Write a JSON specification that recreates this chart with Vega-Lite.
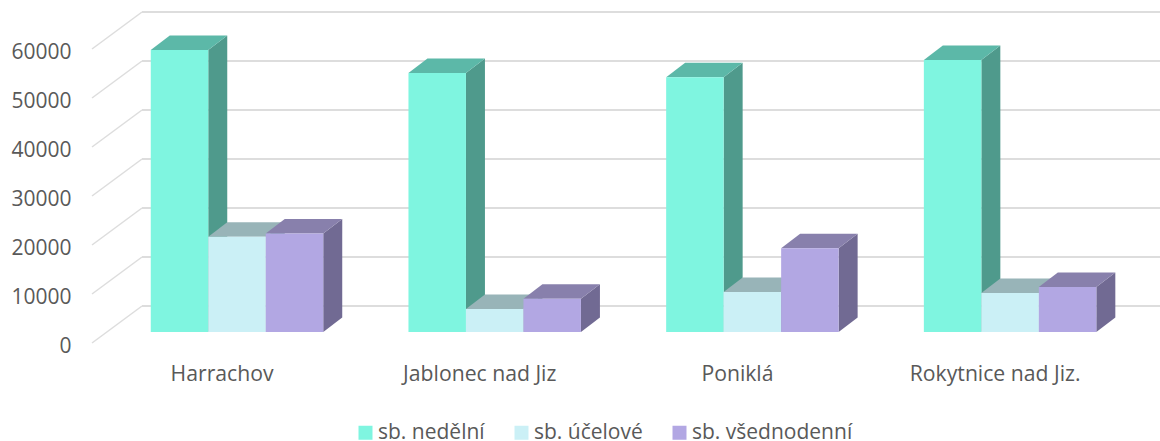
{"$schema":"https://vega.github.io/schema/vega-lite/v6.json","width":1160,"height":441,"padding":0,"autosize":"none","background":"white","config":{"view":{"stroke":null},"font":"Open Sans"},"datasets":{"bars":[{"town":"Harrachov","series":"sb. nedělní","value":57550},{"town":"Harrachov","series":"sb. účelové","value":19450},{"town":"Harrachov","series":"sb. všednodenní","value":20100},{"town":"Jablonec nad Jiz","series":"sb. nedělní","value":52850},{"town":"Jablonec nad Jiz","series":"sb. účelové","value":4700},{"town":"Jablonec nad Jiz","series":"sb. všednodenní","value":6800},{"town":"Poniklá","series":"sb. nedělní","value":52000},{"town":"Poniklá","series":"sb. účelové","value":8160},{"town":"Poniklá","series":"sb. všednodenní","value":17100},{"town":"Rokytnice nad Jiz.","series":"sb. nedělní","value":55500},{"town":"Rokytnice nad Jiz.","series":"sb. účelové","value":7960},{"town":"Rokytnice nad Jiz.","series":"sb. všednodenní","value":9200}],"ticks":[{"tick":0},{"tick":10000},{"tick":20000},{"tick":30000},{"tick":40000},{"tick":50000},{"tick":60000}],"towns":[{"town":"Harrachov"},{"town":"Jablonec nad Jiz"},{"town":"Poniklá"},{"town":"Rokytnice nad Jiz."}]},"resolve":{"scale":{"color":"independent"}},"layer":[{"data":{"name":"ticks"},"transform":[{"calculate":"datum.tick+7551","as":"back"},{"calculate":"-0.3686","as":"wallLeft"},{"calculate":"3.5817","as":"wallRight"}],"mark":{"type":"rule","color":"#DDDDDD","strokeWidth":2},"encoding":{"x":{"field":"wallLeft","type":"quantitative","scale":{"domain":[-0.9197,3.5817],"nice":false,"zero":false},"axis":null},"x2":{"field":"wallRight"},"y":{"field":"back","type":"quantitative","scale":{"domain":[-20000,70000],"nice":false,"zero":false},"title":null,"axis":{"title":null,"values":[0,10000,20000,30000,40000,50000,60000],"format":"d","domain":false,"ticks":false,"grid":false,"offset":-71,"labelPadding":0,"labelFontSize":21,"labelOffset":3,"labelColor":"#595959","labelFont":"Open Sans"}}}},{"data":{"name":"ticks"},"transform":[{"calculate":"datum.tick+7551","as":"back"},{"calculate":"-0.3686","as":"wallLeft"},{"calculate":"-0.5627","as":"frontLeft"}],"mark":{"type":"rule","color":"#DDDDDD","strokeWidth":1.5},"encoding":{"x":{"field":"frontLeft","type":"quantitative","scale":{"domain":[-0.9197,3.5817],"nice":false,"zero":false},"axis":null},"x2":{"field":"wallLeft"},"y":{"field":"tick","type":"quantitative","title":null,"scale":{"domain":[-20000,70000],"nice":false,"zero":false}},"y2":{"field":"back"}}},{"data":{"name":"bars"},"transform":[{"calculate":"indexof(['Harrachov','Jablonec nad Jiz','Poniklá','Rokytnice nad Jiz.'],datum.town)","as":"i"},{"calculate":"indexof(['sb. nedělní','sb. účelové','sb. všednodenní'],datum.series)","as":"s"},{"calculate":"datum.i+(datum.s-1)*0.2231+0.11155","as":"right"},{"calculate":"[0,1]","as":"d"},{"flatten":["d"]},{"calculate":"datum.right+datum.d*0.0737","as":"sx"},{"calculate":"2245+datum.d*2959","as":"low"},{"calculate":"datum.value+datum.low","as":"high"},{"calculate":"datum.town+datum.series","as":"key"}],"mark":{"type":"area","orient":"vertical"},"encoding":{"x":{"field":"sx","type":"quantitative","scale":{"domain":[-0.9197,3.5817],"nice":false,"zero":false},"axis":null},"y":{"field":"low","type":"quantitative","title":null,"stack":null,"scale":{"domain":[-20000,70000],"nice":false,"zero":false}},"y2":{"field":"high"},"detail":{"field":"key"},"color":{"field":"series","type":"nominal","legend":null,"scale":{"domain":["sb. nedělní","sb. účelové","sb. všednodenní"],"range":["#4F9A8C","#7A9CA0","#716A93"]}}}},{"data":{"name":"bars"},"transform":[{"calculate":"indexof(['Harrachov','Jablonec nad Jiz','Poniklá','Rokytnice nad Jiz.'],datum.town)","as":"i"},{"calculate":"indexof(['sb. nedělní','sb. účelové','sb. všednodenní'],datum.series)","as":"s"},{"calculate":"[0,1]","as":"d"},{"flatten":["d"]},{"calculate":"datum.i+(datum.s-1)*0.2231-0.11155+datum.d*0.0737","as":"tl"},{"calculate":"datum.tl+0.2231","as":"tr"},{"calculate":"datum.value+2245+datum.d*2959","as":"ty"},{"calculate":"datum.town+datum.series","as":"key"}],"mark":{"type":"area","orient":"horizontal"},"encoding":{"y":{"field":"ty","type":"quantitative","title":null,"scale":{"domain":[-20000,70000],"nice":false,"zero":false}},"x":{"field":"tl","type":"quantitative","stack":null,"scale":{"domain":[-0.9197,3.5817],"nice":false,"zero":false},"axis":null},"x2":{"field":"tr"},"detail":{"field":"key"},"color":{"field":"series","type":"nominal","legend":null,"scale":{"domain":["sb. nedělní","sb. účelové","sb. všednodenní"],"range":["#5CB8A8","#98B4B8","#8880AC"]}}}},{"data":{"name":"bars"},"transform":[{"calculate":"indexof(['Harrachov','Jablonec nad Jiz','Poniklá','Rokytnice nad Jiz.'],datum.town)","as":"i"},{"calculate":"indexof(['sb. nedělní','sb. účelové','sb. všednodenní'],datum.series)","as":"s"},{"calculate":"datum.i+(datum.s-1)*0.2231-0.11155","as":"left"},{"calculate":"datum.left+0.2231","as":"right"},{"calculate":"2245","as":"base"},{"calculate":"datum.value+2245","as":"top"}],"mark":{"type":"rect"},"encoding":{"x":{"field":"left","type":"quantitative","scale":{"domain":[-0.9197,3.5817],"nice":false,"zero":false},"axis":null},"x2":{"field":"right"},"y":{"field":"base","type":"quantitative","title":null,"scale":{"domain":[-20000,70000],"nice":false,"zero":false}},"y2":{"field":"top"},"color":{"field":"series","type":"nominal","scale":{"domain":["sb. nedělní","sb. účelové","sb. všednodenní"],"range":["#7FF5E0","#CBF0F6","#B2A7E3"]},"legend":{"title":null,"orient":"none","direction":"horizontal","legendX":355,"legendY":422,"symbolType":"square","symbolSize":196,"symbolStrokeWidth":0,"symbolOpacity":1,"labelFontSize":21,"labelLimit":300,"labelColor":"#595959","labelFont":"Open Sans","labelOffset":2,"columnPadding":26}}}},{"data":{"name":"towns"},"transform":[{"calculate":"indexof(['Harrachov','Jablonec nad Jiz','Poniklá','Rokytnice nad Jiz.'],datum.town)-0.058","as":"tx"},{"calculate":"-6530","as":"ty"}],"mark":{"type":"text","fontSize":21.2,"color":"#595959","font":"Open Sans","align":"center","baseline":"middle"},"encoding":{"x":{"field":"tx","type":"quantitative","scale":{"domain":[-0.9197,3.5817],"nice":false,"zero":false},"axis":null},"y":{"field":"ty","type":"quantitative","title":null,"scale":{"domain":[-20000,70000],"nice":false,"zero":false}},"text":{"field":"town"}}}]}
